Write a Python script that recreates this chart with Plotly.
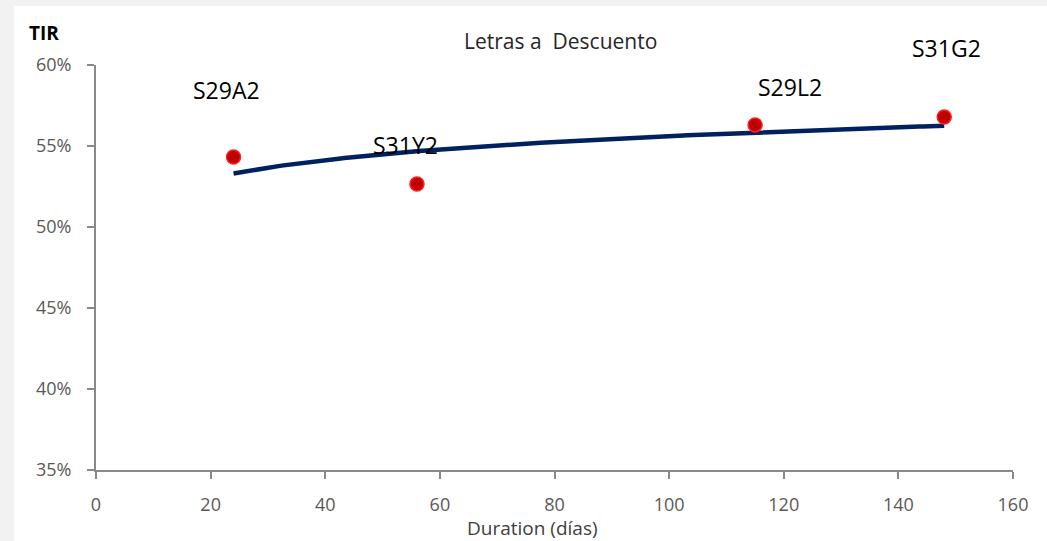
import numpy as np
import plotly.graph_objects as go

# Data
bonds = ["S29A2", "S31Y2", "S29L2", "S31G2"]
duration_days = [24, 56, 115, 148]
tir = [0.5432, 0.5265, 0.5630, 0.5679]

# Label offsets (pixels) relative to each point
label_dx = [-7, -11, 35, 2]
label_dy = [67, 39, 38, 69]

# Logarithmic trendline (least squares fit on the points, as in the source chart)
b, a = np.polyfit(np.log(duration_days), tir, 1)
xt = np.linspace(min(duration_days), max(duration_days), 200)
yt = a + b * np.log(xt)

FONT = "Open Sans"
L, T, PW, PH = 96, 65, 917, 405

def px(x, y):
    return (x - L) / PW, (T + PH - y) / PH

fig = go.Figure()
fig.add_trace(go.Scatter(x=xt, y=yt, mode="lines",
                         line=dict(color="#002060", width=4.5),
                         hoverinfo="skip", showlegend=False))
fig.add_trace(go.Scatter(x=duration_days, y=tir, mode="markers",
                         marker=dict(color="#c00000", size=14,
                                     line=dict(color="#ff2020", width=1.5)),
                         text=bonds, showlegend=False))

for name, x, y, dx, dy in zip(bonds, duration_days, tir, label_dx, label_dy):
    fig.add_annotation(x=x, y=y, xref="x", yref="y", text=name, showarrow=False,
                       xshift=dx, yshift=dy,
                       font=dict(family=FONT, size=23, color="#000000"))

tx, ty = px(560, 41)
fig.add_annotation(x=tx, y=ty, xref="paper", yref="paper", text="Letras a  Descuento",
                   showarrow=False, xanchor="center", yanchor="middle",
                   font=dict(family=FONT, size=21, color="#262626"))
tx, ty = px(44, 33)
fig.add_annotation(x=tx, y=ty, xref="paper", yref="paper", text="<b>TIR</b>",
                   showarrow=False, xanchor="center", yanchor="middle",
                   font=dict(family=FONT, size=19, color="#000000"))
tx, ty = px(532, 528)
fig.add_annotation(x=tx, y=ty, xref="paper", yref="paper", text="Duration (días)",
                   showarrow=False, xanchor="center", yanchor="middle",
                   font=dict(family=FONT, size=19, color="#404040"))

x0, y1 = px(14, 6)
fig.add_shape(type="rect", xref="paper", yref="paper",
              x0=x0, x1=1.2, y0=-0.4, y1=y1,
              fillcolor="white", line=dict(width=0), layer="below")

fig.update_layout(
    width=1047, height=541,
    margin=dict(l=L, r=1047 - L - PW, t=T, b=541 - T - PH),
    paper_bgcolor="#f2f2f2",
    plot_bgcolor="white",
    xaxis=dict(range=[0, 160], dtick=20, showgrid=False, zeroline=False,
               showline=True, linecolor="#898989", linewidth=2,
               ticks="outside", ticklen=7, tickwidth=2, tickcolor="#898989",
               ticklabelstandoff=10, automargin=False,
               tickfont=dict(family=FONT, size=18, color="#595959")),
    yaxis=dict(range=[0.35, 0.60], dtick=0.05, tickformat=".0%", showgrid=False, zeroline=False,
               showline=True, linecolor="#898989", linewidth=2,
               ticks="outside", ticklen=7, tickwidth=2, tickcolor="#898989",
               ticklabelstandoff=12, automargin=False,
               tickfont=dict(family=FONT, size=18, color="#595959")),
)

fig.write_html("out.html", config={"displayModeBar": False},
               post_script="document.body.style.margin='0';document.body.style.padding='0';")
